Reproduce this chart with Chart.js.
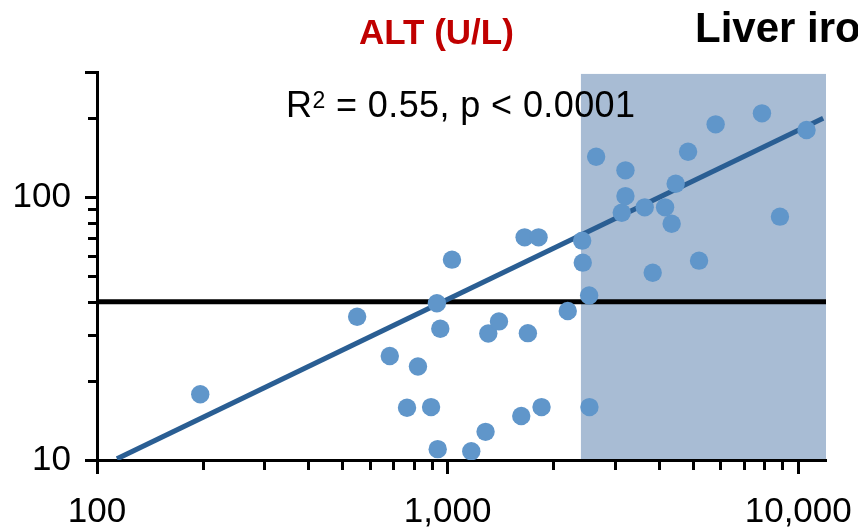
<!DOCTYPE html>
<html>
<head>
<meta charset="utf-8">
<title>ALT vs liver iron</title>
<script src="https://cdn.jsdelivr.net/npm/chart.js@4.4.1/dist/chart.umd.min.js"></script>
<style>
  html, body { margin: 0; padding: 0; background: #fff; }
  #wrap { position: relative; width: 858px; height: 529px; }
</style>
</head>
<body>
<div id="wrap"><canvas id="altChart"></canvas></div>
<script>
// Liver iron (x) against ALT in U/L (y), one point per patient
const liverIron = [197, 552, 684, 823, 766, 897, 937, 932, 953, 1029,
                   1168, 1283, 1306, 1401, 1622, 1658, 1694, 1817, 1853, 2201,
                   2420, 2429, 2533, 2538, 2652, 3138, 3215, 3215, 3649, 3845,
                   4171, 4355, 4471, 4851, 5213, 5813, 7880, 8868, 10560];
const alt = [17.8, 35.1, 24.9, 22.7, 15.8, 15.9, 11.0, 39.5, 31.6, 57.9,
             10.8, 12.8, 30.3, 33.7, 14.7, 70.4, 30.4, 70.4, 15.9, 36.9,
             68.4, 56.4, 42.3, 15.9, 142.7, 87.4, 126.7, 101.1, 91.6, 51.6,
             91.6, 79.3, 112.7, 149.1, 57.4, 189.6, 208.8, 84.4, 180.4];

// Regression line end points
const fitX = [114, 11780];
const fitY = [10.1, 200];

// ALT upper limit of normal
const altLimit = 40;

// Shaded liver iron range
const shadeFrom = 2400;
const shadeTo = 12000;
const shadeTop = 295;

// Axis ranges and ticks
const xRange = [100, 12000];
const yRange = [10, 300];
const xTicks = [100, 1000, 10000];
const xMinor = [200, 300, 400, 500, 600, 700, 800, 900,
                2000, 3000, 4000, 5000, 6000, 7000, 8000, 9000];
const yTicks = [10, 100, 300];
const yLabels = [10, 100];
const yMinor = [20, 30, 40, 50, 60, 70, 80, 90, 200];

const FONT = "'Liberation Sans', Arial, sans-serif";

const toPoints = (xs, ys) => xs.map((v, i) => ({ x: v, y: ys[i] }));

// Shading, short minor ticks and the text labels
const decorations = {
    id: 'decorations',
    beforeDraw(chart) {
        const { ctx, chartArea, scales: { x, y } } = chart;
        const left = x.getPixelForValue(shadeFrom);
        const right = x.getPixelForValue(shadeTo);
        const top = y.getPixelForValue(shadeTop);
        ctx.save();
        ctx.fillStyle = '#a8bcd4';
        ctx.fillRect(left, top, right - left, chartArea.bottom - top);
        ctx.restore();
    },
    afterDraw(chart) {
        const { ctx, chartArea, scales: { x, y } } = chart;
        ctx.save();

        // minor tick marks
        ctx.strokeStyle = '#000';
        ctx.lineWidth = 3;
        ctx.beginPath();
        xMinor.forEach(v => {
            const px = Math.round(x.getPixelForValue(v)) + 0.5;
            ctx.moveTo(px, chartArea.bottom);
            ctx.lineTo(px, chartArea.bottom + 10);
        });
        yMinor.forEach(v => {
            const py = Math.round(y.getPixelForValue(v)) + 0.5;
            ctx.moveTo(chartArea.left - 9, py);
            ctx.lineTo(chartArea.left, py);
        });
        ctx.stroke();

        // headings
        ctx.textAlign = 'left';
        ctx.textBaseline = 'alphabetic';
        ctx.fillStyle = '#c00000';
        ctx.font = 'bold 35px ' + FONT;
        ctx.fillText('ALT (U/L)', 359, 44);
        ctx.fillStyle = '#000';
        ctx.font = 'bold 42px ' + FONT;
        ctx.fillText('Liver iron', 695, 42);

        // fit statistics
        let tx = 286;
        ctx.letterSpacing = '0.4px';
        ctx.font = '36px ' + FONT;
        ctx.fillText('R', tx, 117);
        tx += ctx.measureText('R').width;
        ctx.font = '23px ' + FONT;
        ctx.fillText('2', tx, 108);
        tx += ctx.measureText('2').width;
        ctx.font = '36px ' + FONT;
        ctx.fillText(' = 0.55, p < 0.0001', tx, 117);

        ctx.restore();
    }
};

new Chart(document.getElementById('altChart'), {
    type: 'scatter',
    data: {
        datasets: [
            {
                label: 'Patients',
                data: toPoints(liverIron, alt),
                backgroundColor: '#6096ca',
                borderWidth: 0,
                pointRadius: 9.2,
                order: 0
            },
            {
                label: 'Fit',
                data: toPoints(fitX, fitY),
                showLine: true,
                borderColor: '#2a5e93',
                borderWidth: 5,
                pointRadius: 0,
                order: 1
            },
            {
                label: 'ULN',
                data: toPoints(xRange, [altLimit, altLimit]),
                showLine: true,
                borderColor: '#000',
                borderWidth: 5,
                pointRadius: 0,
                order: 2
            }
        ]
    },
    options: {
        responsive: true,
        maintainAspectRatio: false,
        animation: false,
        layout: { padding: { left: 0, top: 72, right: 32, bottom: 0 } },
        plugins: {
            legend: { display: false },
            tooltip: { enabled: false }
        },
        scales: {
            x: {
                type: 'logarithmic',
                min: xRange[0],
                max: xRange[1],
                afterBuildTicks: s => { s.ticks = xTicks.map(v => ({ value: v })); },
                afterFit: s => { s.height = 69; s.paddingLeft = 0; s.paddingRight = 0; },
                border: { display: true, color: '#000', width: 3 },
                grid: { display: true, drawOnChartArea: false, tickLength: 14, tickWidth: 3, tickColor: '#000' },
                ticks: {
                    autoSkip: false,
                    maxRotation: 0,
                    padding: 17,
                    color: '#000',
                    font: { family: FONT, size: 35 },
                    callback: v => Number(v).toLocaleString('en-US')
                }
            },
            y: {
                type: 'logarithmic',
                min: yRange[0],
                max: yRange[1],
                afterBuildTicks: s => { s.ticks = yTicks.map(v => ({ value: v })); },
                afterFit: s => { s.width = 97; },
                border: { display: true, color: '#000', width: 3 },
                grid: { display: true, drawOnChartArea: false, tickLength: 12, tickWidth: 3, tickColor: '#000' },
                ticks: {
                    autoSkip: false,
                    padding: 14,
                    color: '#000',
                    font: { family: FONT, size: 35 },
                    callback: v => yLabels.includes(v) ? String(v) : ''
                }
            }
        }
    },
    plugins: [decorations]
});
</script>
</body>
</html>
